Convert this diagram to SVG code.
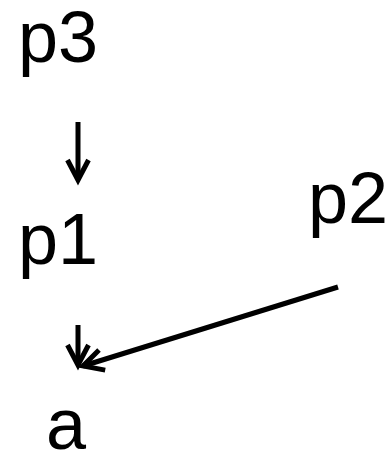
<svg xmlns="http://www.w3.org/2000/svg" width="386" height="452" viewBox="0 0 386 452">
<style>
.lbl{font-family:"Liberation Sans",Arial,sans-serif;font-size:72px;fill:#000}
.edge{stroke:#000;stroke-width:5;fill:none}
</style>
<defs>
<marker id="ah" markerUnits="userSpaceOnUse" orient="auto" markerWidth="40" markerHeight="40" refX="0" refY="0" viewBox="-30 -20 40 40" overflow="visible">
<path d="M-20,-10.5 L0,0 L-20,10.5" fill="none" stroke="#000" stroke-width="5" stroke-linejoin="miter" stroke-miterlimit="10"/>
</marker>
</defs>
<rect width="386" height="452" fill="#fff"/>
<g id="p3"><text class="lbl" x="18" y="62">p3</text></g>
<g id="p1"><text class="lbl" x="18" y="264">p1</text></g>
<g id="p2"><text class="lbl" x="308" y="223">p2</text></g>
<g id="a"><text class="lbl" x="46" y="449">a</text></g>
<g id="connectors">
<line class="edge" x1="78" y1="122" x2="78" y2="180" marker-end="url(#ah)"/>
<line class="edge" x1="78" y1="325" x2="78" y2="365" marker-end="url(#ah)"/>
<line class="edge" x1="338" y1="287" x2="83" y2="366" marker-end="url(#ah)"/>
</g>
</svg>
